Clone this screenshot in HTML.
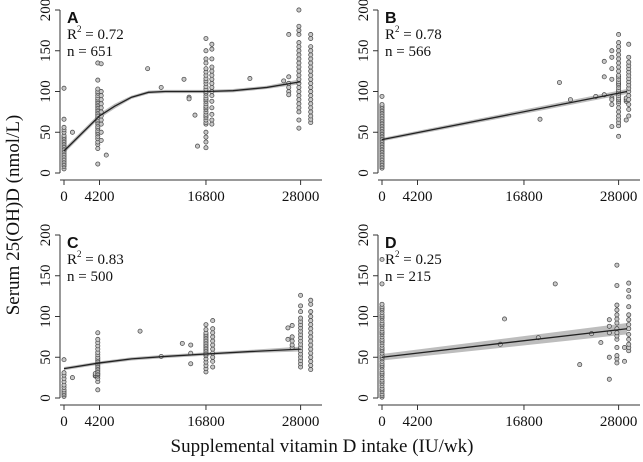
<!DOCTYPE html>
<html><head><meta charset="utf-8"><style>
body{margin:0;background:#fff}
svg{display:block}
text{font-family:"Liberation Serif",serif;fill:#111}
</style></head><body>
<svg id="chart" width="643" height="462" viewBox="0 0 643 462">
<text transform="translate(19,215) rotate(-90)" text-anchor="middle" font-size="19">Serum 25(OH)D (nmol/L)</text>
<text x="322" y="452" text-anchor="middle" font-size="19">Supplemental vitamin D intake (IU/wk)</text>
</svg>
<script>
const xTicks=[0,4200,16800,28000];
const yTicks=[0,50,100,150,200];
const panelLabels=["A","B","C","D"];
const r2Labels=["0.72","0.78","0.83","0.25"];
const nLabels=["651","566","500","215"];
// columns: [intake, [serum values]]
const ptsA=[[0,[5,8,10,12,14,16,18,20,22,24,26,28,30,32,34,36,38,40,42,44,46,50,53,56,66,104]],[1000,[50]],
[4000,[11,30,35,38,42,45,48,50,52,55,57,60,62,64,66,68,70,72,74,76,78,80,82,84,86,88,90,92,95,98,100,103,114,135]],
[4400,[40,50,60,65,70,75,80,85,90,95,100,134]],[5000,[22]],[9900,[128]],[11500,[105]],[14200,[115]],[14800,[93,91]],[15800,[33]],[15500,[71]],
[16800,[31,38,44,50,60,62,65,68,70,72,75,78,80,82,85,88,90,92,95,98,100,103,106,110,113,116,120,124,128,135,140,150,165]],
[17500,[60,65,72,80,88,95,100,105,110,115,120,125,130,140,152,158]],[22000,[116]],[26000,[113]],[26600,[118,110,105,100,96,170]],
[27800,[55,65,75,80,85,90,95,100,105,110,115,120,125,130,135,140,145,150,155,160,170,175,180,200]],
[29200,[62,66,70,75,80,85,90,95,100,105,110,115,120,125,130,135,140,145,150,155,165,170]]];
const ptsB=[[0,[6,8,10,12,14,16,18,20,22,24,26,28,30,32,34,36,38,40,42,44,46,48,50,52,54,56,58,60,62,64,66,68,70,72,74,76,78,80,82,84,94]],
[18700,[66]],[21000,[111]],[22300,[90]],[25300,[94]],[26300,[137,118,96]],[27200,[150,142,128,115,92,90,84,57]],
[28000,[45,58,62,66,70,75,80,85,88,90,92,95,98,100,102,105,108,110,112,115,118,120,125,130,135,140,145,150,155,160,170]],
[28900,[65,88,90,92]],[29200,[70,78,84,90,95,100,104,108,112,116,120,124,128,132,136,142,158]]];
const ptsC=[[0,[2,4,6,8,10,13,16,20,24,28,31,47]],[1000,[25]],[3700,[27,28,30]],
[4000,[10,20,24,27,29,30,32,34,36,38,40,42,44,46,48,50,53,56,60,64,68,72,80]],[9000,[82]],[11500,[51]],[14000,[67]],[15000,[55,42,65]],
[16800,[32,36,40,44,48,52,54,56,58,60,62,64,66,68,70,72,74,76,78,80,84,90]],[17600,[38,45,50,55,60,65,70,75,80,85,95]],
[26500,[72,86]],[27000,[62,65,70,75,89]],[28000,[38,42,46,50,54,58,62,66,70,74,78,82,86,90,94,98,106,113,126]],
[29200,[35,40,45,50,55,60,65,70,75,80,85,90,95,100,106,115,120]]];
const ptsD=[[0,[1,3,5,8,10,12,15,18,20,22,25,28,30,32,35,38,40,42,45,48,50,52,55,58,60,62,65,68,70,72,75,78,80,82,85,88,90,92,95,98,100,102,105,108,110,112,115,140,170]],
[14000,[66]],[14500,[97]],[18500,[74]],[20500,[140]],[23400,[41]],[24800,[79]],[25900,[68]],[26900,[96,88,80,50,23]],
[27800,[43,48,52,62,72,76,80,85,92,97,102,108,114,138,163]],[28700,[45,62]],[29200,[58,62,66,72,78,85,90,96,102,112,124,132,141]]];
const fitX=[[0,4200,6000,8000,10000,12000,16800,20000,24000,28000],[0,29000],[0,4200,8000,12000,16800,22000,28000],[0,29000]];
const fitY=[[27,70,82,93,99,100,100,101,105,112],[41,100],[36,43,48,51,54,57,60],[50,85]];
const fitBand=[[3,3,3,2,2,2,2,2,2,3],[2,3],[2,2,2,2,2,2,3],[4,7]];
const allPts=[ptsA,ptsB,ptsC,ptsD];
const origins=[[64,173],[382,173],[64,398],[382,398]];
const NS="http://www.w3.org/2000/svg";
const svg=document.getElementById('chart');
function mk(t,a,p){const e=document.createElementNS(NS,t);for(const k in a)e.setAttribute(k,a[k]);(p||svg).appendChild(e);return e;}
allPts.forEach((pts,i)=>{
 const [ox,oy]=origins[i];
 const sx=v=>ox+v*0.00845, sy=v=>oy-v*0.815;
 const g=mk('g',{});
 
 
 const ya=mk('line',{x1:ox-4,x2:ox-4,y1:sy(0),y2:sy(200),stroke:'#333','stroke-width':1},g);
 
 yTicks.forEach(t=>{mk('line',{x1:ox-9,x2:ox-4,y1:sy(t),y2:sy(t),stroke:'#333'},g);
  const tx=mk('text',{transform:`translate(${ox-14},${sy(t)}) rotate(-90)`,'text-anchor':'middle','font-size':15},g);tx.textContent=t;
  });
 const xa=mk('line',{x1:ox-4,x2:ox+258,y1:oy+7,y2:oy+7,stroke:'#333'},g);
 
 xTicks.forEach(t=>{mk('line',{x1:sx(t),x2:sx(t),y1:oy+7,y2:oy+12,stroke:'#333'},g);
  const tx=mk('text',{x:sx(t),y:oy+28,'text-anchor':'middle','font-size':15},g);tx.textContent=t;
  });
 const fx=fitX[i],fy=fitY[i],fb=fitBand[i];
 let up=fx.map((x,k)=>sx(x)+','+sy(fy[k]+fb[k])).join(' ');
 let dn=fx.map((x,k)=>sx(x)+','+sy(fy[k]-fb[k])).reverse().join(' ');
 const band=mk('polygon',{points:up+' '+dn,fill:'#bdbdbd'},g);
 
 pts.forEach(([x,ys])=>ys.forEach(y=>{const c=mk('circle',{cx:sx(x),cy:sy(y),r:2.1,fill:'#c8c8c8',stroke:'#444','stroke-width':0.7},g);
  }));
 const ln=mk('polyline',{points:fx.map((x,k)=>sx(x)+','+sy(fy[k])).join(' '),fill:'none',stroke:'#222','stroke-width':1.3},g);
 
 const pl=mk('text',{x:ox+3,y:oy-150,'font-size':16,'font-weight':'bold',style:'font-family:"Liberation Sans",sans-serif'},g);pl.textContent=panelLabels[i];
 
 const r=mk('text',{x:ox+3,y:oy-134,'font-size':15},g);r.innerHTML='R<tspan font-size="9" dy="-7">2</tspan><tspan dy="7"> = '+r2Labels[i]+'</tspan>';
 
 const n=mk('text',{x:ox+3,y:oy-117,'font-size':15},g);n.textContent='n = '+nLabels[i];
 
});
</script>
</body></html>
